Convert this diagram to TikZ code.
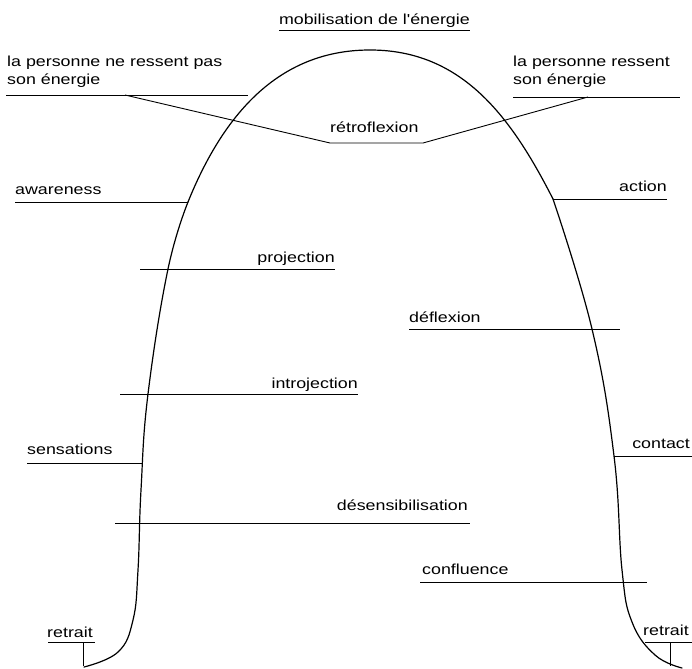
\documentclass[tikz,border=0pt]{standalone}
\usepackage{fontspec}
\newfontfamily\labelfont{Liberation Sans}[FakeStretch=1.23]
\usetikzlibrary{positioning}

\begin{document}
\begin{tikzpicture}[x=1pt, y=-1pt,
  every node/.style={font=\labelfont\fontsize{14.5}{18}\selectfont, inner sep=0pt},
  lbl/.style={anchor=base west},
  lblr/.style={anchor=base east},
  tick/.style={line width=0.9pt},
  curve/.style={line width=1.2pt, line join=round, line cap=round},
]
\useasboundingbox (0,0) rectangle (692,668);

% Energy curve
\coordinate (bend-l) at (188,202);
\coordinate (peak) at (370,50);
\coordinate (bend-r) at (553,199);
\draw[curve] plot[smooth, tension=0.7] coordinates {
  (84,667) (118,652) (133,620) (138,570) (141,490) (148,394)
  (168,269) (188,202)};
\draw[curve] (bend-l) to[out=68,in=180] (peak) to[out=0,in=117] (bend-r);
\draw[curve] plot[smooth, tension=0.7] coordinates {
  (553,199) (592,329) (614,456) (622,570) (632,622) (655,655) (682,668)};

% Top
\node[lblr] (mobil) at (470,25) {mobilisation de l'énergie};
\coordinate (mobil-l) at (279,30);
\coordinate (mobil-r) at (470,30);
\draw[tick] (mobil-l) -- (mobil-r);

% Energy felt / not felt
\node[lbl, align=left] (nopas) at (7,85) {la personne ne ressent pas\\son énergie};
\node[lbl, align=left] (ressent) at (513,85) {la personne ressent\\son énergie};
\coordinate (nopas-l) at (6,95);
\coordinate (nopas-r) at (248,95);
\coordinate (nopas-k) at (125,95);
\coordinate (ressent-l) at (513,97);
\coordinate (ressent-r) at (680,97);
\coordinate (ressent-k) at (588,97);
\draw[tick] (nopas-l) -- (nopas-r);
\draw[tick] (ressent-l) -- (ressent-r);

% Retroflexion
\node[lbl] (retro) at (330,133) {rétroflexion};
\coordinate (retro-l) at (330,143);
\coordinate (retro-r) at (423,143);
\draw[tick] (nopas-k) -- (retro-l) -- (retro-r) -- (ressent-k);

% Awareness / action
\node[lbl] (aware) at (15,195) {awareness};
\coordinate (aware-l) at (15,202);
\draw[tick] (aware-l) -- (bend-l);
\node[lblr] (action) at (667,192) {action};
\coordinate (action-r) at (667,199);
\draw[tick] (bend-r) -- (action-r);

% Projection / deflexion / introjection
\node[lblr] (proj) at (335,262) {projection};
\coordinate (proj-l) at (140,269);
\coordinate (proj-r) at (335,269);
\draw[tick] (proj-l) -- (proj-r);
\node[lbl] (defl) at (409,322) {déflexion};
\coordinate (defl-l) at (409,329);
\coordinate (defl-r) at (620,329);
\draw[tick] (defl-l) -- (defl-r);
\node[lblr] (intro) at (358,388) {introjection};
\coordinate (intro-l) at (120,394);
\coordinate (intro-r) at (358,394);
\draw[tick] (intro-l) -- (intro-r);

% Sensations / contact
\node[lbl] (sens) at (27,454) {sensations};
\coordinate (sens-l) at (27,463);
\coordinate (sens-r) at (143,463);
\draw[tick] (sens-l) -- (sens-r);
\node[lblr] (contact) at (690,448) {contact};
\coordinate (contact-l) at (614,456);
\coordinate (contact-r) at (692,456);
\draw[tick] (contact-l) -- (contact-r);

% Desensibilisation / confluence
\node[lblr] (desens) at (468,510) {désensibilisation};
\coordinate (desens-l) at (115,523);
\coordinate (desens-r) at (470,523);
\draw[tick] (desens-l) -- (desens-r);
\node[lbl] (confl) at (422,574) {confluence};
\coordinate (confl-l) at (420,582);
\coordinate (confl-r) at (647,582);
\draw[tick] (confl-l) -- (confl-r);

% Retrait
\node[lbl] (retl) at (47,637) {retrait};
\coordinate (retl-l) at (48,642);
\coordinate (retl-r) at (95,642);
\coordinate (retl-t) at (83,642);
\coordinate (retl-b) at (83,666);
\draw[tick] (retl-l) -- (retl-r);
\draw[tick] (retl-t) -- (retl-b);
\node[lblr] (retr) at (689,635) {retrait};
\coordinate (retr-l) at (645,642);
\coordinate (retr-r) at (692,642);
\coordinate (retr-t) at (670,642);
\coordinate (retr-b) at (670,666);
\draw[tick] (retr-l) -- (retr-r);
\draw[tick] (retr-t) -- (retr-b);

\end{tikzpicture}
\end{document}
